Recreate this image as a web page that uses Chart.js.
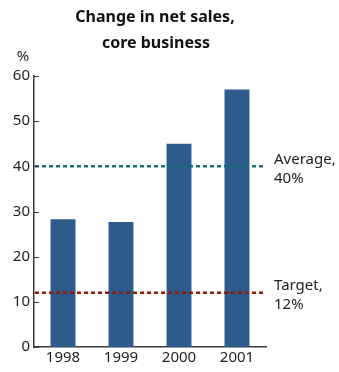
<!DOCTYPE html>
<html>
<head>
<meta charset="utf-8">
<script src="https://cdn.jsdelivr.net/npm/chart.js@4/dist/chart.umd.min.js"></script>
<style>
  html, body { margin: 0; padding: 0; background: #fff; }
  #wrap { width: 339px; height: 372px; position: relative; }
</style>
</head>
<body>
<div id="wrap"><canvas id="salesChart"></canvas></div>
<script>
// Data
const years = ['1998', '1999', '2000', '2001'];
const salesChange = [28.3, 27.7, 45, 57];
const yTicks = [0, 10, 20, 30, 40, 50, 60];
const averageValue = 40;
const targetValue = 12;
const averageLabel = ['Average,', '40%'];
const targetLabel = ['Target,', '12%'];
const titleLines = ['Change in net sales,', 'core business'];

const FONT = '"Noto Sans", "Open Sans", sans-serif';
const BAR_COLOR = '#2f5a8c';
const AXIS_COLOR = '#3a3a3a';
const TEXT_COLOR = '#1e1e1e';

// Reference lines, title, unit and inside tick marks
const decorations = {
    id: 'decorations',
    afterDatasetsDraw(chart) {
        const ctx = chart.ctx;
        const area = chart.chartArea;
        const y = chart.scales.y;

        const refLines = [
            { value: averageValue, color: '#16727a', text: averageLabel },
            { value: targetValue, color: '#8e1c06', text: targetLabel }
        ];
        ctx.save();
        refLines.forEach(r => {
            const py = y.getPixelForValue(r.value);
            ctx.strokeStyle = r.color;
            ctx.lineWidth = 2.5;
            ctx.setLineDash([4, 3]);
            ctx.beginPath();
            ctx.moveTo(area.left + 1, py);
            ctx.lineTo(area.right, py);
            ctx.stroke();

            ctx.setLineDash([]);
            ctx.fillStyle = TEXT_COLOR;
            ctx.font = '15px ' + FONT;
            ctx.textAlign = 'left';
            ctx.textBaseline = 'middle';
            ctx.fillText(r.text[0], area.right + 8, py - 7);
            ctx.fillText(r.text[1], area.right + 8, py + 12);
        });

        // small ticks pointing into the plot
        ctx.strokeStyle = AXIS_COLOR;
        ctx.lineWidth = 1;
        yTicks.forEach(v => {
            const py = Math.round(y.getPixelForValue(v)) + 0.5;
            ctx.beginPath();
            ctx.moveTo(area.left, py);
            ctx.lineTo(area.left + 5, py);
            ctx.stroke();
        });

        // title
        ctx.fillStyle = '#111';
        ctx.font = 'bold 16px ' + FONT;
        ctx.textAlign = 'center';
        ctx.textBaseline = 'middle';
        ctx.fillText(titleLines[0], 155, 17);
        ctx.fillText(titleLines[1], 156, 43);

        // unit
        ctx.fillStyle = TEXT_COLOR;
        ctx.font = '15px ' + FONT;
        ctx.fillText('%', 23, 57);
        ctx.restore();
    }
};

const chart = new Chart(document.getElementById('salesChart'), {
    type: 'bar',
    data: {
        labels: years,
        datasets: [{
            data: salesChange,
            backgroundColor: BAR_COLOR,
            borderWidth: 0,
            barPercentage: 0.43,
            categoryPercentage: 1
        }]
    },
    options: {
        responsive: true,
        maintainAspectRatio: false,
        animation: false,
        devicePixelRatio: 1,
        layout: { padding: { top: 76, right: 73, left: 0, bottom: 0 } },
        plugins: {
            legend: { display: false },
            tooltip: { enabled: false }
        },
        scales: {
            x: {
                grid: { display: false, drawTicks: false },
                border: { display: true, color: AXIS_COLOR, width: 1.5 },
                ticks: {
                    color: TEXT_COLOR,
                    font: { family: FONT, size: 15 },
                    padding: 2
                },
                afterFit(scale) { scale.height = 25; }
            },
            y: {
                min: 0,
                max: 60,
                afterBuildTicks(scale) {
                    scale.ticks = yTicks.map(v => ({ value: v }));
                },
                grid: { display: false, drawTicks: false },
                border: { display: true, color: AXIS_COLOR, width: 1.5 },
                ticks: {
                    color: TEXT_COLOR,
                    font: { family: FONT, size: 15 },
                    padding: 4
                },
                afterFit(scale) { scale.width = 34; }
            }
        }
    },
    plugins: [decorations]
});
</script>
</body>
</html>
